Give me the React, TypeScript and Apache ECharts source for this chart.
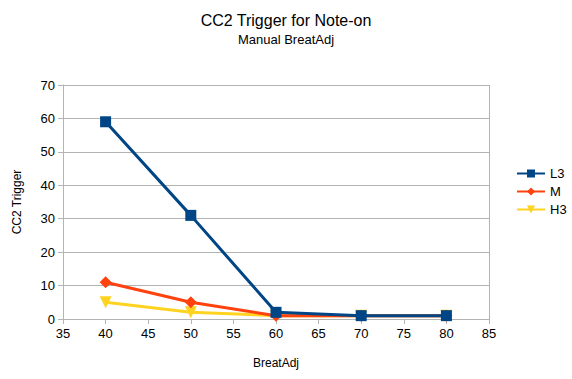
import React, { useEffect, useRef } from "react";
import * as echarts from "echarts";

const xValues = [40, 50, 60, 70, 80];
const l3 = [59, 31, 2, 1, 1];
const m = [11, 5, 1, 1, 1];
const h3 = [5, 2, 1, 1, 1];
const seriesNames = ["L3", "M", "H3"];
const colors = ["#004586", "#ff420e", "#ffd320"];

export default function App() {
  const ref = useRef<HTMLDivElement>(null);
  useEffect(() => {
    if (!ref.current) return;
    const chart = echarts.init(ref.current, undefined, { renderer: "svg" });
    const font = "'Liberation Sans', Arial, sans-serif";
    const mk = (data: number[]) => xValues.map((x, i) => [x, data[i]]);
    chart.setOption({
      animation: false,
      textStyle: { fontFamily: font },
      title: {
        text: "CC2 Trigger for Note-on",
        subtext: "Manual BreatAdj",
        left: "center",
        top: 7,
        itemGap: 5,
        textStyle: { fontFamily: font, fontSize: 16, fontWeight: "normal", color: "#000" },
        subtextStyle: { fontFamily: font, fontSize: 13, color: "#000" },
      },
      legend: {
        orient: "vertical",
        left: 511,
        top: 162,
        itemWidth: 28,
        itemHeight: 10,
        itemGap: 5,
        textStyle: { fontFamily: font, fontSize: 13, color: "#000" },
        data: seriesNames,
      },
      grid: { left: 63, right: 83, top: 85, bottom: 60, containLabel: false },
      xAxis: {
        type: "value",
        min: 35,
        max: 85,
        interval: 5,
        name: "BreatAdj",
        nameLocation: "middle",
        nameGap: 38,
        nameTextStyle: { fontFamily: font, fontSize: 12, color: "#000" },
        axisLine: { show: true, lineStyle: { color: "#b3b3b3" } },
        axisTick: { show: true, length: 5, lineStyle: { color: "#b3b3b3" } },
        axisLabel: { fontFamily: font, fontSize: 13, color: "#000", margin: 8 },
        splitLine: { show: false },
      },
      yAxis: {
        type: "value",
        min: 0,
        max: 70,
        interval: 10,
        name: "CC2 Trigger",
        nameLocation: "middle",
        nameGap: 40,
        nameTextStyle: { fontFamily: font, fontSize: 12, color: "#000" },
        axisLine: { show: true, lineStyle: { color: "#b3b3b3" } },
        axisTick: { show: true, length: 5, lineStyle: { color: "#b3b3b3" } },
        axisLabel: { fontFamily: font, fontSize: 13, color: "#000", margin: 8 },
        splitLine: { show: true, lineStyle: { color: "#b3b3b3" } },
      },
      graphic: [
        {
          type: "line",
          shape: { x1: 489.5, y1: 85, x2: 489.5, y2: 324 },
          style: { stroke: "#b3b3b3", lineWidth: 1 },
          silent: true,
        },
      ],
      series: [
        {
          name: "L3",
          type: "line",
          data: mk(l3),
          symbol: "rect",
          symbolSize: 11,
          z: 3,
          lineStyle: { width: 3, color: colors[0] },
          itemStyle: { color: colors[0] },
        },
        {
          name: "M",
          type: "line",
          data: mk(m),
          symbol: "diamond",
          symbolSize: 12,
          z: 2,
          lineStyle: { width: 3, color: colors[1] },
          itemStyle: { color: colors[1] },
        },
        {
          name: "H3",
          type: "line",
          data: mk(h3),
          symbol: "triangle",
          symbolRotate: 180,
          symbolSize: 12,
          z: 1,
          lineStyle: { width: 3, color: colors[2] },
          itemStyle: { color: colors[2] },
        },
      ],
    });
    return () => chart.dispose();
  }, []);
  return (
    <div
      ref={ref}
      style={{ position: "absolute", left: 0, top: 0, width: 572, height: 379 }}
    />
  );
}
